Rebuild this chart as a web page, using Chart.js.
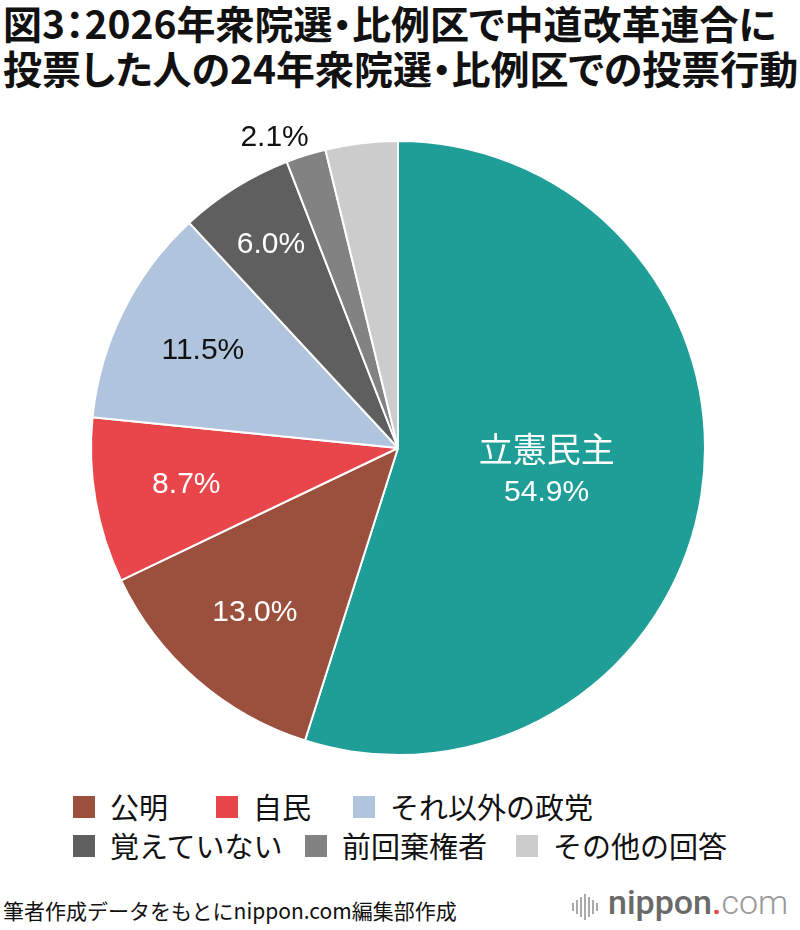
<!DOCTYPE html>
<html lang="ja">
<head>
<meta charset="utf-8">
<script src="https://cdn.jsdelivr.net/npm/chart.js@4/dist/chart.umd.min.js"></script>
<style>
    html, body {margin: 0; padding: 0; background: #fff;}
    body {width: 800px; height: 930px; position: relative; overflow: hidden; font-family: "Noto Sans CJK JP", sans-serif;}
    .title {position: absolute; left: 3px; top: 0; font-size: 39px; font-weight: 700; line-height: 45px; color: #111; white-space: nowrap; font-feature-settings: "palt";}
    #wrap {position: absolute; left: 0; top: 100px; width: 800px; height: 666px;}
    .lg {position: absolute; font-size: 29px; color: #111; line-height: 32px; white-space: nowrap;}
    .lg i {position: absolute; left: -37px; top: 6px; width: 22px; height: 22px;}
    .source {position: absolute; left: 3px; top: 895px; font-size: 21px; color: #111; white-space: nowrap;}
    .logo {position: absolute; left: 572px; top: 886px; height: 40px; white-space: nowrap;}
    .bars {position: absolute; left: 0; top: 8px; width: 30px; height: 26px;}
    .bars b {position: absolute; bottom: 0; width: 2px; background: #aaa;}
    .word {position: absolute; left: 36px; top: -4px; font-family: "Roboto", sans-serif; font-size: 34px; color: #6a6a6a; font-weight: 500;}
    .word span.dot {color: #e8464a;}
    .word span.com {color: #999; font-weight: 300;}
</style>
</head>
<body>
<div class="title">図3：2026年衆院選・比例区で中道改革連合に<br>投票した人の24年衆院選・比例区での投票行動</div>
<div id="wrap"><canvas id="pieChart" width="800" height="666"></canvas></div>
<div id="legend"></div>
<div class="source">筆者作成データをもとにnippon.com編集部作成</div>
<div class="logo">
    <div class="bars" id="bars"></div>
    <div class="word">nippon<span class="dot">.</span><span class="com">com</span></div>
</div>
<script>
// ---- data ----
const labels = ['立憲民主', '公明', '自民', 'それ以外の政党', '覚えていない', '前回棄権者', 'その他の回答'];
const values = [54.9, 13.0, 8.7, 11.5, 6.0, 2.1, 3.8];
const valueLabels = ['54.9%', '13.0%', '8.7%', '11.5%', '6.0%', '2.1%', ''];

// ---- style ----
const colors = ['#1f9e97', '#9b503d', '#e8464a', '#b0c4dd', '#5f5f5f', '#828282', '#cccccc'];
const labelRadius = [0.49, 0.71, 0.70, 0.71, 0.78, 1.09, 0];
const labelShift = [[0, 0], [0, 0], [0, 0], [0, 0], [0, 0], [-23, 9], [0, 0]];
const labelColor = ['#fff', '#fff', '#fff', '#111', '#fff', '#111', '#111'];

// legend (items 1..6), text positions in page px
const legendPos = [null, [110, 790], [253, 790], [390, 790], [110, 829], [342, 829], [553, 829]];

const legendBox = document.getElementById('legend');
labels.forEach((name, i) => {
    if (!legendPos[i]) return;
    const d = document.createElement('div');
    d.className = 'lg';
    d.style.left = legendPos[i][0] + 'px';
    d.style.top = legendPos[i][1] + 'px';
    d.innerHTML = '<i style="background:' + colors[i] + '"></i>' + name;
    legendBox.appendChild(d);
});

// logo bars
const barHeights = [8, 14, 20, 26, 20, 14, 8];
const barsEl = document.getElementById('bars');
barHeights.forEach((h, i) => {
    const b = document.createElement('b');
    b.style.left = (i * 4) + 'px';
    b.style.height = h + 'px';
    b.style.bottom = ((26 - h) / 2) + 'px';
    barsEl.appendChild(b);
});

// labels on slices
const sliceLabels = {
    id: 'sliceLabels',
    afterDatasetsDraw(chart) {
        const ctx = chart.ctx;
        const meta = chart.getDatasetMeta(0);
        ctx.save();
        ctx.textAlign = 'center';
        ctx.textBaseline = 'middle';
        meta.data.forEach((arc, i) => {
            if (!valueLabels[i]) return;
            const p = arc.getProps(['x', 'y', 'startAngle', 'endAngle', 'outerRadius'], true);
            const mid = (p.startAngle + p.endAngle) / 2;
            const r = p.outerRadius * labelRadius[i];
            const x = p.x + Math.cos(mid) * r + labelShift[i][0];
            const y = p.y + Math.sin(mid) * r + labelShift[i][1];
            ctx.fillStyle = labelColor[i];
            if (i === 0) {
                ctx.font = '34px "Noto Sans CJK JP"';
                ctx.fillText(labels[0], x, y - 22);
                ctx.font = '30px "Liberation Sans", Arial, sans-serif';
                ctx.fillText(valueLabels[i], x, y + 22);
            } else {
                ctx.font = '30px "Liberation Sans", Arial, sans-serif';
                ctx.fillText(valueLabels[i], x, y);
            }
        });
        ctx.restore();
    }
};

new Chart(document.getElementById('pieChart').getContext('2d'), {
    type: 'pie',
    data: {
        labels: labels,
        datasets: [{
            data: values,
            backgroundColor: colors,
            borderColor: '#ffffff',
            borderWidth: 2
        }]
    },
    options: {
        responsive: false,
        animation: false,
        layout: {padding: {top: 40, bottom: 10, left: 0, right: 4}},
        plugins: {
            legend: {display: false},
            tooltip: {enabled: false}
        }
    },
    plugins: [sliceLabels]
});
</script>
</body>
</html>
